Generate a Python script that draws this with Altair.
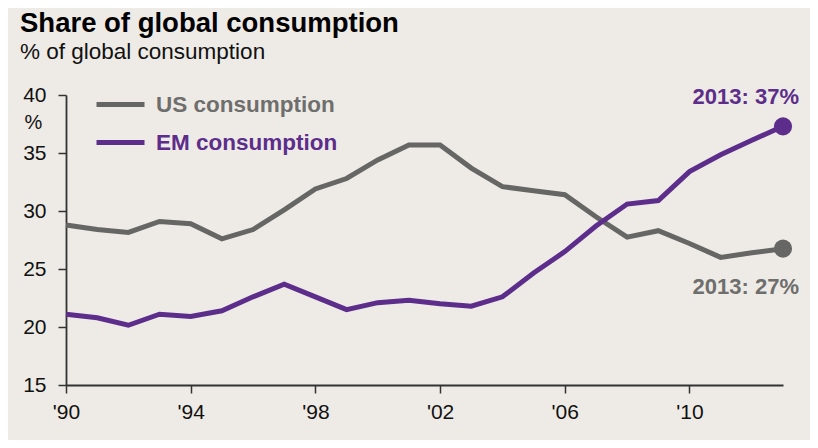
import altair as alt
import pandas as pd

years = list(range(1990, 2014))
us_consumption = [28.8, 28.4, 28.15, 29.1, 28.9, 27.6, 28.4, 30.1, 31.9, 32.8, 34.4, 35.7,
                  35.7, 33.7, 32.1, 31.75, 31.4, 29.5, 27.75, 28.3, 27.2, 26.0, 26.4, 26.75]
em_consumption = [21.1, 20.8, 20.15, 21.1, 20.9, 21.4, 22.6, 23.7, 22.6, 21.5, 22.1, 22.3,
                  22.0, 21.8, 22.6, 24.65, 26.5, 28.7, 30.6, 30.9, 33.4, 34.85, 36.1, 37.3]
series_names = ["US consumption", "EM consumption"]
series_colors = ["#666765", "#5c2d8a"]
label_colors = ["#6e6e6d", "#5c2d8a"]
x_tick_values = [1990, 1994, 1998, 2002, 2006, 2010]
y_tick_values = [15, 20, 25, 30, 35, 40]

rows = []
for y, u, e in zip(years, us_consumption, em_consumption):
    rows.append({"year": y, "series": series_names[0], "value": u})
    rows.append({"year": y, "series": series_names[1], "value": e})
df = pd.DataFrame(rows)

last = pd.DataFrame([
    {"year": years[-1], "series": series_names[0], "value": us_consumption[-1],
     "label": f"{years[-1]}: {round(us_consumption[-1])}%"},
    {"year": years[-1], "series": series_names[1], "value": em_consumption[-1],
     "label": f"{years[-1]}: {round(em_consumption[-1])}%"},
])

FONT = "Liberation Sans"

x_enc = alt.X("year:Q", scale=alt.Scale(domain=[1990, 2013], nice=False, zero=False),
              axis=alt.Axis(values=x_tick_values, title=None, grid=False,
                            labelExpr="\"'\" + substring(toString(datum.value), 2)",
                            labelFontSize=21, labelColor="#111111", labelFont=FONT,
                            tickSize=8, tickColor="#333333", tickWidth=1.5,
                            domainColor="#333333", domainWidth=1.8,
                            labelPadding=8, labelBaseline="top", labelFlush=False))
y_enc = alt.Y("value:Q", scale=alt.Scale(domain=[15, 40], nice=False, zero=False),
              axis=alt.Axis(values=y_tick_values, title="%", grid=False,
                            labelFontSize=21, labelColor="#111111", labelFont=FONT,
                            tickSize=8, tickColor="#333333", tickWidth=1.5,
                            domainColor="#333333", domainWidth=1.8, labelPadding=12,
                            titleAngle=0, titleX=-33, titleY=27, titleAlign="center",
                            titleBaseline="middle", titleFontSize=20,
                            titleFontWeight="normal", titleColor="#111111",
                            titleFont=FONT))

color_scale = alt.Scale(domain=series_names, range=series_colors)

lines = alt.Chart(df).mark_line(strokeWidth=5).encode(
    x=x_enc, y=y_enc,
    color=alt.Color("series:N", scale=color_scale,
                    legend=alt.Legend(orient="none", legendX=28, legendY=-17,
                                      title=None, symbolType="stroke",
                                      symbolSize=2304, symbolStrokeWidth=5,
                                      labelFontSize=22.5, labelFontWeight="bold",
                                      labelFont=FONT, labelOffset=9, labelLimit=400,
                                      rowPadding=-13,
                                      labelColor=alt.ExprRef(
                                          "datum.label == 'US consumption' ? '#6e6e6d' : '#5c2d8a'"))),
)

points = alt.Chart(last).mark_circle(size=330, opacity=1).encode(
    x="year:Q", y="value:Q",
    color=alt.Color("series:N", scale=color_scale, legend=None),
)

text_em = alt.Chart(last).transform_filter(
    alt.datum.series == series_names[1]
).mark_text(align="right", baseline="middle", dx=16, dy=-29, fontSize=22,
            fontWeight="bold", font=FONT, color=label_colors[1]).encode(
    x="year:Q", y="value:Q", text="label:N")

text_us = alt.Chart(last).transform_filter(
    alt.datum.series == series_names[0]
).mark_text(align="right", baseline="middle", dx=16, dy=38, fontSize=22,
            fontWeight="bold", font=FONT, color=label_colors[0]).encode(
    x="year:Q", y="value:Q", text="label:N")

chart = alt.layer(lines, points, text_em, text_us).properties(
    width=717, height=290,
    autosize=alt.AutoSizeParams(type="none"),
    padding={"left": 58, "top": 87, "right": 27, "bottom": 55},
    background="#eeebe6",
    title=alt.TitleParams(text="Share of global consumption",
                          subtitle="% of global consumption",
                          anchor="start", frame="group", dx=-46, offset=15,
                          fontSize=27.5, fontWeight="bold", font=FONT, color="#000000",
                          subtitleFontSize=22.5, subtitleFont=FONT,
                          subtitleColor="#111111", subtitlePadding=3),
).configure_view(stroke=None)

chart.save("out.html", embed_options={"renderer": "svg", "actions": False})
